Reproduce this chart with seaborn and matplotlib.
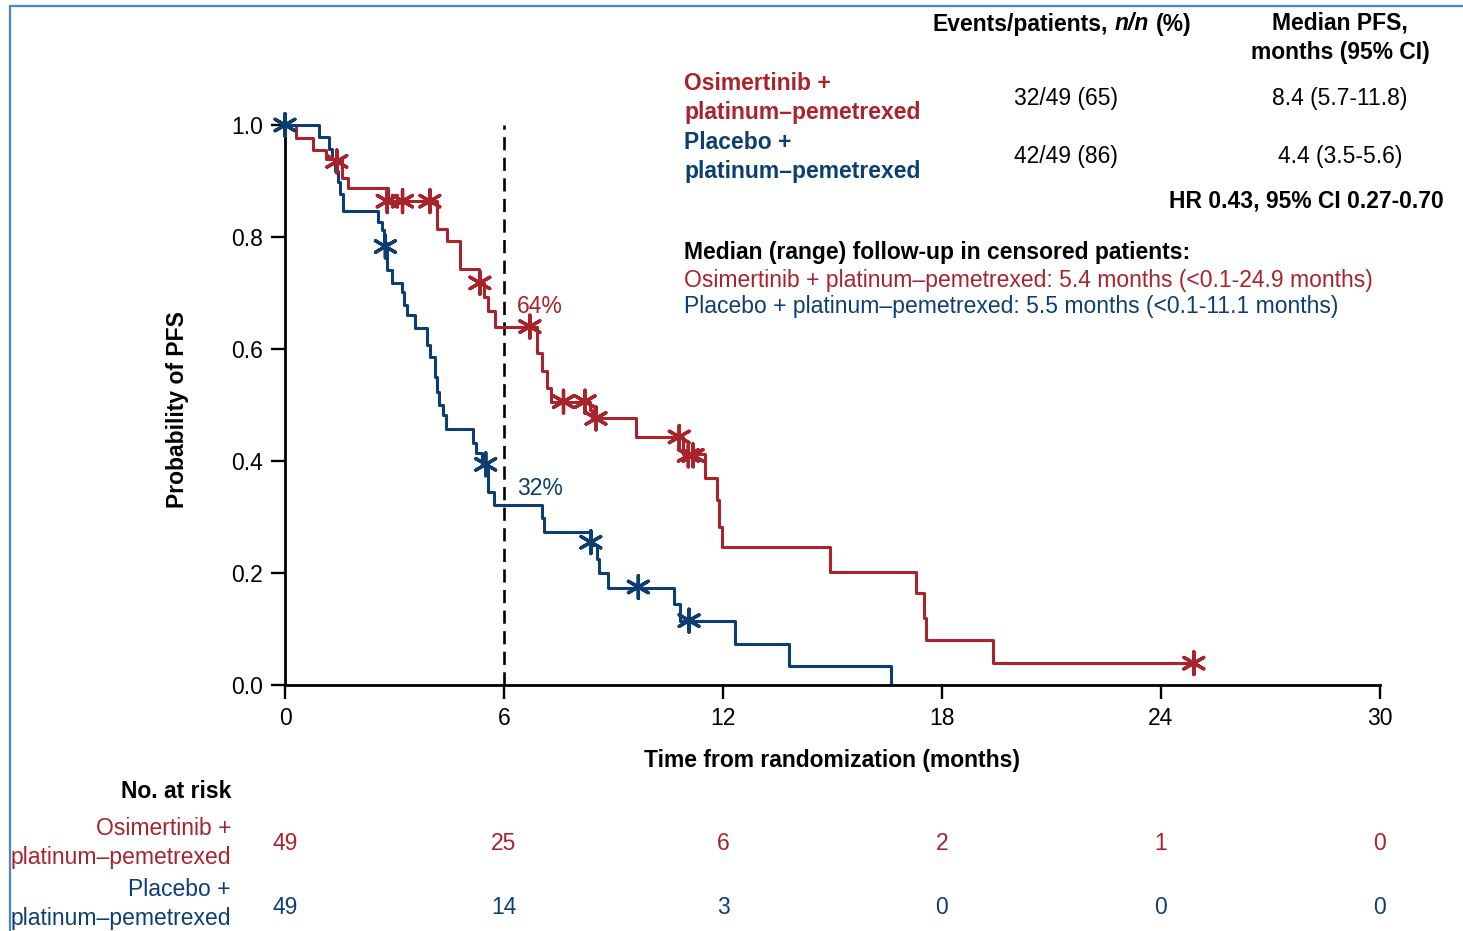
import numpy as np
import pandas as pd
import matplotlib
matplotlib.use("Agg")
import matplotlib.pyplot as plt
import matplotlib.transforms as mtransforms
from matplotlib.lines import Line2D
import seaborn as sns

# ---------------- data ----------------
arm_names = ["Osimertinib + platinum–pemetrexed", "Placebo + platinum–pemetrexed"]

osi_time = [0, 0.30, 0.78, 1.12, 1.55, 1.73, 2.83, 4.16, 4.45, 4.79, 5.32, 5.45,
            5.57, 5.75, 6.90, 7.03, 7.17, 7.28, 8.36, 8.42, 9.63, 10.90, 11.50,
            11.83, 11.90, 11.96, 14.93, 17.30, 17.50, 17.55, 19.40, 24.90]
osi_surv = [1.0, 0.977, 0.955, 0.940, 0.905, 0.888, 0.864, 0.815, 0.792, 0.742,
            0.718, 0.693, 0.667, 0.640, 0.592, 0.560, 0.530, 0.506, 0.491, 0.476,
            0.443, 0.412, 0.369, 0.330, 0.283, 0.247, 0.202, 0.164, 0.120, 0.080,
            0.039, 0.039]

pbo_time = [0, 0.94, 1.21, 1.28, 1.37, 1.45, 1.52, 1.59, 2.56, 2.65, 2.72, 2.80,
            2.92, 3.20, 3.26, 3.33, 3.56, 3.90, 3.97, 4.11, 4.16, 4.23, 4.34, 4.41,
            5.14, 5.23, 5.40, 5.57, 5.73, 7.03, 7.10, 8.36, 8.55, 8.60, 8.86,
            10.66, 10.82, 12.33, 13.80, 16.60]
pbo_surv = [1.0, 0.979, 0.958, 0.939, 0.918, 0.898, 0.877, 0.847, 0.827, 0.812,
            0.790, 0.741, 0.718, 0.702, 0.679, 0.661, 0.637, 0.607, 0.586, 0.550,
            0.524, 0.500, 0.482, 0.458, 0.432, 0.414, 0.394, 0.345, 0.321, 0.298,
            0.274, 0.250, 0.225, 0.200, 0.173, 0.145, 0.115, 0.073, 0.034, 0.0]

osi_cens_time = [1.42, 2.80, 3.22, 3.97, 5.34, 6.71, 7.63, 8.22, 8.52, 10.80,
                 11.05, 11.18, 24.90]
osi_cens_surv = [0.935, 0.864, 0.864, 0.864, 0.718, 0.640, 0.506, 0.506, 0.476,
                 0.443, 0.410, 0.410, 0.039]
pbo_cens_time = [0.0, 2.75, 5.50, 8.38, 9.68, 11.07]
pbo_cens_surv = [1.0, 0.783, 0.394, 0.255, 0.175, 0.115]

risk_times = [0, 6, 12, 18, 24, 30]
osi_at_risk = [49, 25, 6, 2, 1, 0]
pbo_at_risk = [49, 14, 3, 0, 0, 0]

x_ticks = [0, 6, 12, 18, 24, 30]
y_ticks = [0.0, 0.2, 0.4, 0.6, 0.8, 1.0]
landmark_month = 6
landmark_labels = ["64%", "32%"]
landmark_label_y = [0.676, 0.351]

events = ["32/49 (65)", "42/49 (86)"]
medians = ["8.4 (5.7-11.8)", "4.4 (3.5-5.6)"]

# ---------------- styling ----------------
RED = "#A8232B"
BLUE = "#0D3E73"
BORDER = "#4A86C8"
palette = {arm_names[0]: RED, arm_names[1]: BLUE}
FS = 16.5
LS = 1.35
DY = 2  # small vertical correction (px) for centred text

W, H = 1463, 931
sns.set_theme(style="white")
plt.rcParams['font.family'] = ['Liberation Sans', 'DejaVu Sans']
plt.rcParams['text.color'] = 'black'
plt.rcParams['axes.labelcolor'] = 'black'

fig = plt.figure(figsize=(W / 100, H / 100), dpi=100)


def fx(px):
    return px / W


def fy(py):
    return 1 - (py + DY) / H


ax = fig.add_axes([fx(285), 1 - 685 / H, fx(1380) - fx(285), (685 - 120) / H])

curves = pd.concat([
    pd.DataFrame({"time": osi_time, "surv": osi_surv, "arm": arm_names[0]}),
    pd.DataFrame({"time": pbo_time, "surv": pbo_surv, "arm": arm_names[1]}),
], ignore_index=True)
cens = pd.concat([
    pd.DataFrame({"time": osi_cens_time, "surv": osi_cens_surv, "arm": arm_names[0]}),
    pd.DataFrame({"time": pbo_cens_time, "surv": pbo_cens_surv, "arm": arm_names[1]}),
], ignore_index=True)

sns.lineplot(data=curves, x="time", y="surv", hue="arm", palette=palette,
             estimator=None, drawstyle="steps-post", linewidth=2.2,
             legend=False, ax=ax)
sns.scatterplot(data=cens, x="time", y="surv", hue="arm", palette=palette,
                marker=(6, 2, 0), s=270, linewidth=2.4, legend=False, ax=ax,
                zorder=4, clip_on=False)

ymax = 1.0 + 5 / 560
ax.set_xlim(0, 30)
ax.set_ylim(0, ymax)
ax.axvline(landmark_month, ymin=0, ymax=1.0 / ymax, color="black",
           linestyle=(0, (5, 2.8)), linewidth=1.9, zorder=1)

ax.set_xticks(x_ticks)
ax.set_xticklabels([str(t) for t in x_ticks])
ax.set_yticks(y_ticks)
ax.set_yticklabels([f"{v:.1f}" for v in y_ticks])
ax.tick_params(axis="both", which="major", direction="out", length=10,
               width=1.7, color="black", labelcolor="black", labelsize=FS,
               bottom=True, left=True, pad=6)
ax.grid(False)
for side in ["top", "right"]:
    ax.spines[side].set_visible(False)
for side in ["left", "bottom"]:
    ax.spines[side].set_color("black")
    ax.spines[side].set_linewidth(2.0)

ax.set_xlabel("Time from randomization (months)", fontsize=FS,
              fontweight="bold", color="black")
ax.xaxis.set_label_coords(0.5, (685 - 760) / 565)
ax.xaxis.label.set_va("center")
ax.set_ylabel("Probability of PFS", fontsize=FS, fontweight="bold",
              color="black")
ax.yaxis.set_label_coords((177 - 285) / 1095, (685 - 410) / 565)
ax.yaxis.label.set_va("center")

ax.text(6.36, landmark_label_y[0], landmark_labels[0], color=RED, fontsize=FS,
        ha="left", va="center")
ax.text(6.36, landmark_label_y[1], landmark_labels[1], color=BLUE, fontsize=FS,
        ha="left", va="center")

# ---------------- header table ----------------
renderer = fig.canvas.get_renderer()
parts = [("Events/patients,", "normal"), ("n/n", "italic"), ("(%)", "normal")]
tmp = []
for s, st in parts:
    t = fig.text(0, 0, s, fontsize=FS, fontweight="bold", style=st)
    tmp.append(t)
widths = [t.get_window_extent(renderer).width for t in tmp]
space = 0.278 * FS * 100 / 72
total = sum(widths) + 2 * space
start = 1062 - total / 2
xcur = start
for t, w in zip(tmp, widths):
    t.set_position((fx(xcur), fy(22)))
    t.set_va("center")
    xcur += w + space

fig.text(fx(1340), fy(36), "Median PFS,\nmonths (95% CI)", fontsize=FS,
         fontweight="bold", ha="center", va="center", linespacing=LS)
fig.text(fx(684), fy(96), "Osimertinib +\nplatinum–pemetrexed", fontsize=FS,
         fontweight="bold", color=RED, ha="left", va="center", linespacing=LS)
fig.text(fx(684), fy(155), "Placebo +\nplatinum–pemetrexed", fontsize=FS,
         fontweight="bold", color=BLUE, ha="left", va="center", linespacing=LS)
fig.text(fx(1066), fy(96), events[0], fontsize=FS, ha="center", va="center")
fig.text(fx(1066), fy(155), events[1], fontsize=FS, ha="center", va="center")
fig.text(fx(1340), fy(96), medians[0], fontsize=FS, ha="center", va="center")
fig.text(fx(1340), fy(155), medians[1], fontsize=FS, ha="center", va="center")
fig.text(fx(1444), fy(199), "HR 0.43, 95% CI 0.27-0.70", fontsize=FS,
         fontweight="bold", ha="right", va="center")
fig.text(fx(684), fy(250), "Median (range) follow-up in censored patients:",
         fontsize=FS, fontweight="bold", ha="left", va="center")
fig.text(fx(684), fy(278),
         "Osimertinib + platinum–pemetrexed: 5.4 months (<0.1-24.9 months)",
         fontsize=FS, color=RED, ha="left", va="center")
fig.text(fx(684), fy(305),
         "Placebo + platinum–pemetrexed: 5.5 months (<0.1-11.1 months)",
         fontsize=FS, color=BLUE, ha="left", va="center")

# ---------------- number at risk ----------------
fig.text(fx(231), fy(790), "No. at risk", fontsize=FS, fontweight="bold",
         ha="right", va="center")
fig.text(fx(231), fy(841), "Osimertinib +\nplatinum–pemetrexed", fontsize=FS,
         color=RED, ha="right", va="center", linespacing=LS,
         multialignment="right")
fig.text(fx(231), fy(902), "Placebo +\nplatinum–pemetrexed", fontsize=FS,
         color=BLUE, ha="right", va="center", linespacing=LS,
         multialignment="right")
blend = mtransforms.blended_transform_factory(ax.transData, fig.transFigure)
for t, n in zip(risk_times, osi_at_risk):
    ax.text(t, fy(841), str(n), transform=blend, fontsize=FS, color=RED,
            ha="center", va="center", clip_on=False)
for t, n in zip(risk_times, pbo_at_risk):
    ax.text(t, fy(905), str(n), transform=blend, fontsize=FS, color=BLUE,
            ha="center", va="center", clip_on=False)

# ---------------- frame border ----------------
fig.add_artist(Line2D([fx(10), fx(10)], [1 - 6 / H, 0], color=BORDER, lw=1.6,
                      transform=fig.transFigure))
fig.add_artist(Line2D([fx(10), 1], [1 - 6 / H, 1 - 6 / H], color=BORDER,
                      lw=1.6, transform=fig.transFigure))

fig.savefig("out.png", dpi=100, facecolor="white")
